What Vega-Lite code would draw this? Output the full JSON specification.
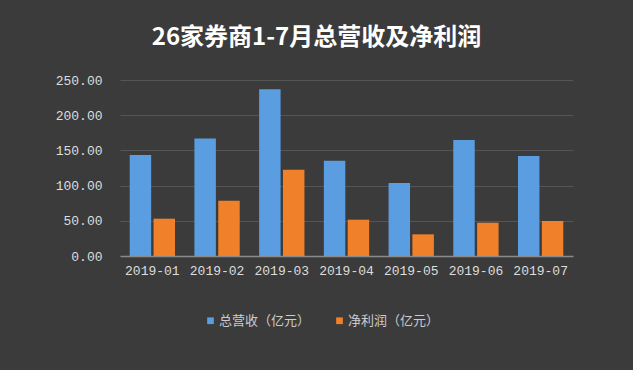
{
  "$schema": "https://vega.github.io/schema/vega-lite/v6.json",
  "width": 453,
  "height": 176,
  "autosize": "none",
  "padding": {"left": 120, "top": 80, "right": 60, "bottom": 114},
  "background": "#3b3b3b",
  "title": {
    "text": "26家券商1-7月总营收及净利润",
    "font": "Noto Sans CJK SC",
    "fontSize": 24,
    "fontWeight": "bold",
    "color": "#ffffff",
    "anchor": "middle",
    "dx": -30,
    "offset": 24
  },
  "data": {
    "values": [
      {"month": "2019-01", "series": "总营收（亿元）", "value": 143.5},
      {"month": "2019-01", "series": "净利润（亿元）", "value": 53},
      {"month": "2019-02", "series": "总营收（亿元）", "value": 167},
      {"month": "2019-02", "series": "净利润（亿元）", "value": 78.6},
      {"month": "2019-03", "series": "总营收（亿元）", "value": 237},
      {"month": "2019-03", "series": "净利润（亿元）", "value": 122.6},
      {"month": "2019-04", "series": "总营收（亿元）", "value": 135.4},
      {"month": "2019-04", "series": "净利润（亿元）", "value": 51.6},
      {"month": "2019-05", "series": "总营收（亿元）", "value": 103.7},
      {"month": "2019-05", "series": "净利润（亿元）", "value": 30.8},
      {"month": "2019-06", "series": "总营收（亿元）", "value": 164.8},
      {"month": "2019-06", "series": "净利润（亿元）", "value": 47.3},
      {"month": "2019-07", "series": "总营收（亿元）", "value": 142},
      {"month": "2019-07", "series": "净利润（亿元）", "value": 49.7}
    ]
  },
  "mark": {"type": "bar"},
  "encoding": {
    "x": {
      "field": "month",
      "type": "nominal",
      "scale": {"paddingInner": 0.3, "paddingOuter": 0.15},
      "axis": {
        "title": null,
        "labelAngle": 0,
        "labelFont": "Liberation Mono",
        "labelFontSize": 13,
        "labelColor": "#dddddd",
        "labelPadding": 8,
        "ticks": false,
        "domainColor": "#8a8a8a",
        "domainWidth": 1.5
      }
    },
    "xOffset": {
      "field": "series",
      "type": "nominal",
      "sort": ["总营收（亿元）", "净利润（亿元）"],
      "scale": {"paddingInner": 0.1}
    },
    "y": {
      "field": "value",
      "type": "quantitative",
      "scale": {"domain": [0, 250]},
      "axis": {
        "title": null,
        "values": [0, 50, 100, 150, 200, 250],
        "format": ".2f",
        "labelFont": "Liberation Mono",
        "labelFontSize": 13,
        "labelColor": "#dddddd",
        "labelPadding": 18,
        "ticks": false,
        "domain": false,
        "gridColor": "#555555",
        "gridWidth": 1
      }
    },
    "color": {
      "field": "series",
      "type": "nominal",
      "sort": ["总营收（亿元）", "净利润（亿元）"],
      "scale": {"range": ["#5a9de0", "#f0802a"]},
      "legend": {
        "title": null,
        "orient": "none",
        "legendX": 84,
        "legendY": 234,
        "direction": "horizontal",
        "symbolType": "square",
        "symbolSize": 45,
        "labelFont": "Noto Sans CJK SC",
        "labelFontSize": 13,
        "labelColor": "#cccccc",
        "columnPadding": 22,
        "labelOffset": 2
      }
    }
  },
  "config": {"view": {"stroke": null}}
}
